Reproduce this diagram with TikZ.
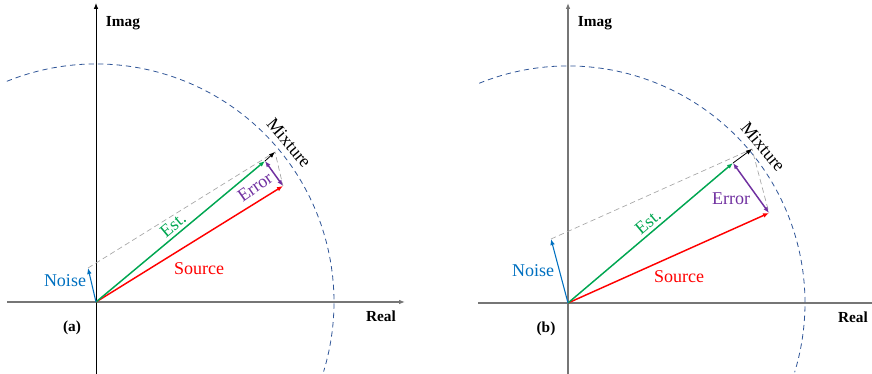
\documentclass[tikz,border=0pt]{standalone}
\usepackage{fontspec}
\setmainfont{Liberation Serif}
\usetikzlibrary{arrows.meta}
\definecolor{srcred}{RGB}{255,0,0}
\definecolor{estgreen}{RGB}{0,166,81}
\definecolor{errpurple}{RGB}{112,48,160}
\definecolor{noiseblue}{RGB}{0,112,192}
\definecolor{circblue}{RGB}{47,85,151}
\definecolor{axisgray}{RGB}{118,118,118}
\begin{document}
\begin{tikzpicture}[
				x=0.75pt, y=0.75pt,
				arrow/.style={-{Latex[length=4.5pt,width=3.5pt]}},
				vec/.style={arrow, line width=1.1pt},
				axis/.style={line width=1.1pt, axisgray},
				guide/.style={gray!70, line width=0.5pt, dash pattern=on 4pt off 2.5pt},
				bound/.style={circblue, line width=0.6pt, dash pattern=on 4pt off 3pt},
				lbl/.style={font=\fontsize{13.5}{15}\selectfont, inner sep=0pt},
				axlbl/.style={font=\fontsize{11.5}{13}\selectfont\bfseries, inner sep=0pt},
			]
				\useasboundingbox (0,0) rectangle (872,374);
				
				% (a)
				\begin{scope}[shift={(96,72)}]
				\coordinate (oa) at (0,0);
				\coordinate (noisea) at (-8,34);
				\coordinate (srca) at (187,116);
				\coordinate (esta) at (169,141);
				\coordinate (mixa) at (179,150);
				\coordinate (xla) at (-89,0);
				\coordinate (xra) at (309,0);
				\coordinate (yba) at (0,-72);
				\coordinate (yta) at (0,299);
				
				\draw[axis, arrow] (xla) -- (xra);
				\draw[line width=0.7pt, arrow] (yba) -- (yta);
				\draw[bound] (112:178.5pt) arc[start angle=112, end angle=-17, radius=178.5pt];
				
				\draw[guide] (noisea) -- (mixa) -- (srca);
				\draw[arrow, line width=0.6pt] (esta) -- (mixa);
				\draw[vec, srcred] (oa) -- (srca);
				\draw[vec, estgreen] (oa) -- (esta);
				\draw[vec, errpurple, {Latex[length=4.5pt,width=3.5pt]}-{Latex[length=4.5pt,width=3.5pt]}] (esta) -- (srca);
				\draw[arrow, noiseblue, line width=0.8pt] (oa) -- (noisea);
				
				\node (imaga) [axlbl] at (27,279) {Imag};
				\node (reala) [axlbl] at (285,-14) {Real};
				\node (taga) [axlbl] at (-24,-26) {(a)};
				\node (noisetxta) [lbl, noiseblue] at (-31,21) {Noise};
				\node (srctxta) [lbl, srcred] at (103,33) {Source};
				\node (esttxta) [lbl, estgreen, rotate=40] at (77,77) {Est.};
				\node (errtxta) [lbl, errpurple, rotate=35] at (159,115) {Error};
				\node (mixtxta) [lbl, rotate=-50] at (193,159) {Mixture};
				\end{scope}
				
				% (b)
				\begin{scope}[shift={(568,71)}]
				\coordinate (ob) at (0,0);
				\coordinate (noiseb) at (-17,64);
				\coordinate (srcb) at (201,90);
				\coordinate (estb) at (165,140);
				\coordinate (mixb) at (184,154);
				\coordinate (xlb) at (-90,0);
				\coordinate (xrb) at (304,0);
				\coordinate (ybb) at (0,-71);
				\coordinate (ytb) at (0,300);
				
				\draw[axis] (xlb) -- (xrb);
				\draw[axis, arrow] (ybb) -- (ytb);
				\draw[bound] (112:177.75pt) arc[start angle=112, end angle=-17, radius=177.75pt];
				
				\draw[guide] (noiseb) -- (mixb) -- (srcb);
				\draw[arrow, line width=0.6pt] (estb) -- (mixb);
				\draw[vec, srcred] (ob) -- (srcb);
				\draw[vec, estgreen] (ob) -- (estb);
				\draw[vec, errpurple, {Latex[length=4.5pt,width=3.5pt]}-{Latex[length=4.5pt,width=3.5pt]}] (estb) -- (srcb);
				\draw[arrow, noiseblue, line width=0.8pt] (ob) -- (noiseb);
				
				\node (imagb) [axlbl] at (27,280) {Imag};
				\node (realb) [axlbl] at (285,-14) {Real};
				\node (tagb) [axlbl] at (-22,-26) {(b)};
				\node (noisetxtb) [lbl, noiseblue] at (-35,32) {Noise};
				\node (srctxtb) [lbl, srcred] at (111,26) {Source};
				\node (esttxtb) [lbl, estgreen, rotate=40] at (80,81) {Est.};
				\node (errtxtb) [lbl, errpurple] at (163,104) {Error};
				\node (mixtxtb) [lbl, rotate=-50] at (195,156) {Mixture};
				\end{scope}
			\end{tikzpicture}
\end{document}
